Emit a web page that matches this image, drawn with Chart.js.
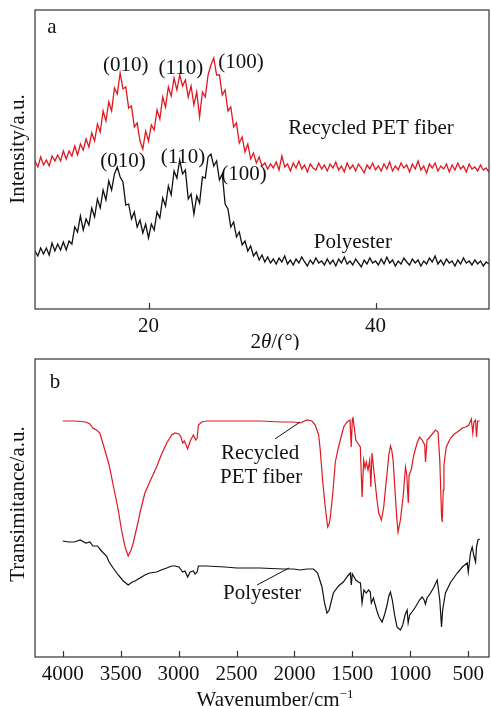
<!DOCTYPE html>
<html>
<head>
<meta charset="utf-8">
<script src="https://cdn.jsdelivr.net/npm/chart.js@4.4.0/dist/chart.umd.min.js"></script>
<style>
  html, body { margin: 0; padding: 0; background: #fff; }
  #wrap { position: relative; width: 491px; height: 706px; }
  canvas { position: absolute; left: 0; }
  #xrd { top: 0; }
  #ftir { top: 350px; }
</style>
</head>
<body>
<div id="wrap">
  <canvas id="xrd" width="491" height="350"></canvas>
  <canvas id="ftir" width="491" height="356"></canvas>
</div>
<script>
// panel a - XRD, 2theta in degrees
const angles = [
  10, 10.25, 10.5, 10.75, 11, 11.25, 11.5, 11.75, 12, 12.25, 12.5, 12.75, 13, 13.25, 13.5, 13.75, 14, 14.25, 14.5, 14.75,
  15, 15.25, 15.5, 15.75, 16, 16.25, 16.5, 16.75, 17, 17.25, 17.5, 17.75, 18, 18.25, 18.5, 18.75, 19, 19.25, 19.5, 19.75,
  20, 20.25, 20.5, 20.75, 21, 21.25, 21.5, 21.75, 22, 22.25, 22.5, 22.75, 23, 23.25, 23.5, 23.75, 24, 24.25, 24.5, 24.75,
  25, 25.25, 25.5, 25.75, 26, 26.25, 26.5, 26.75, 27, 27.25, 27.5, 27.75, 28, 28.25, 28.5, 28.75, 29, 29.25, 29.5, 29.75,
  30, 30.25, 30.5, 30.75, 31, 31.25, 31.5, 31.75, 32, 32.25, 32.5, 32.75, 33, 33.25, 33.5, 33.75, 34, 34.25, 34.5, 34.75,
  35, 35.25, 35.5, 35.75, 36, 36.25, 36.5, 36.75, 37, 37.25, 37.5, 37.75, 38, 38.25, 38.5, 38.75, 39, 39.25, 39.5, 39.75,
  40, 40.25, 40.5, 40.75, 41, 41.25, 41.5, 41.75, 42, 42.25, 42.5, 42.75, 43, 43.25, 43.5, 43.75, 44, 44.25, 44.5, 44.75,
  45, 45.25, 45.5, 45.75, 46, 46.25, 46.5, 46.75, 47, 47.25, 47.5, 47.75, 48, 48.25, 48.5, 48.75, 49, 49.25, 49.5, 49.75,
  50
];
const xrdRecycled = [
  148, 142, 152, 144, 149, 143, 153, 148, 154, 148, 158, 150, 158, 153, 163, 154, 165, 159, 170, 162,
  176, 168, 185, 177, 198, 188, 207, 198, 221, 215, 236, 220, 222, 201, 203, 182, 186, 168, 160, 178,
  168, 184, 179, 199, 190, 212, 202, 222, 213, 231, 219, 234, 223, 229, 212, 223, 204, 217, 192, 217,
  212, 234, 244, 251, 234, 234, 214, 219, 198, 202, 182, 186, 166, 172, 157, 165, 150, 156, 146, 152,
  143, 146, 140, 145, 141, 147, 139, 153, 142, 145, 138, 146, 141, 148, 140, 144, 137, 145, 141, 139,
  146, 140, 144, 138, 145, 141, 147, 139, 143, 137, 146, 140, 144, 138, 145, 141, 136, 144, 140, 146,
  139, 143, 138, 145, 140, 147, 138, 143, 139, 146, 141, 144, 137, 145, 140, 148, 139, 143, 136, 145,
  141, 146, 138, 143, 140, 145, 137, 144, 139, 146, 140, 143, 137, 145, 140, 142, 138, 144, 139, 141,
  137
];
const xrdPolyester = [
  58, 53, 61, 55, 61, 54, 66, 58, 65, 59, 67, 59, 68, 65, 82, 77, 93, 79, 90, 84,
  101, 92, 110, 101, 119, 109, 128, 119, 135, 142, 132, 127, 104, 105, 90, 97, 82, 89, 76, 85,
  71, 85, 79, 97, 91, 111, 103, 123, 114, 138, 131, 149, 135, 139, 110, 115, 95, 113, 106, 132,
  131, 152, 155, 143, 148, 129, 135, 105, 100, 82, 87, 72, 77, 64, 68, 58, 63, 53, 57, 49,
  54, 47, 52, 46, 50, 45, 51, 47, 53, 45, 49, 44, 50, 46, 52, 47, 43, 49, 45, 51,
  46, 48, 44, 50, 45, 49, 43, 50, 46, 52, 45, 48, 44, 50, 46, 42, 49, 45, 51, 46,
  48, 44, 50, 45, 52, 46, 49, 43, 48, 45, 51, 47, 44, 50, 46, 49, 43, 48, 45, 51,
  47, 53, 45, 49, 44, 50, 46, 48, 43, 49, 45, 51, 46, 48, 44, 49, 45, 48, 43, 47,
  45
];
const xrdTicks = [20, 40];

// panel b - FTIR, wavenumber in cm-1
const wnRecycled = [
  4000, 3900, 3800, 3766, 3740, 3710, 3680, 3637, 3600, 3565, 3521, 3493, 3460, 3435, 3410, 3392, 3350, 3334, 3291, 3250,
  3190, 3150, 3103, 3060, 3030, 2997, 2980, 2965, 2950, 2922, 2900, 2873, 2852, 2840, 2829, 2800, 2757, 2600, 2498, 2300,
  2100, 2008, 1950, 1892, 1849, 1820, 1791, 1777, 1757, 1734, 1713, 1700, 1690, 1670, 1647, 1625, 1604, 1575, 1546, 1520,
  1510, 1500, 1494, 1470, 1460, 1431, 1416, 1402, 1390, 1379, 1365, 1350, 1340, 1330, 1310, 1287, 1272, 1249, 1229, 1215,
  1200, 1185, 1171, 1160, 1148, 1128, 1115, 1105, 1085, 1060, 1050, 1041, 1030, 1017, 1010, 992, 969, 941, 920, 897,
  875, 868, 855, 839, 810, 782, 760, 745, 730, 724, 715, 709, 689, 652, 620, 594, 570, 551, 520, 494,
  473, 460, 450, 436, 428, 418, 401
];
const tRecycled = [
  236, 236, 235, 233, 229, 227, 224, 207, 192, 172, 147, 127, 109, 101, 107, 114, 135, 144, 164, 175,
  190, 202, 214, 222, 224, 223, 220, 214, 216, 208, 216, 222, 217, 219, 232, 235, 236, 236, 236, 236,
  235, 235, 234, 237, 236, 232, 222, 207, 177, 150, 130, 133, 140, 162, 195, 207, 217, 230, 235, 237,
  210, 238, 239, 217, 215, 210, 160, 197, 189, 195, 187, 197, 170, 204, 182, 157, 144, 137, 150, 167,
  184, 202, 211, 207, 197, 160, 137, 125, 137, 162, 177, 190, 182, 154, 182, 187, 202, 214, 220, 217,
  212, 195, 217, 219, 223, 227, 225, 197, 142, 135, 167, 192, 210, 219, 223, 225, 227, 229, 230, 232,
  238, 224, 235, 237, 220, 236, 236
];
const wnPolyester = [
  4000, 3950, 3900, 3850, 3800, 3766, 3740, 3700, 3680, 3650, 3622, 3600, 3565, 3521, 3478, 3435, 3400, 3377, 3334, 3291,
  3250, 3190, 3150, 3103, 3060, 3030, 2997, 2965, 2945, 2922, 2900, 2873, 2858, 2840, 2829, 2757, 2600, 2498, 2300, 2100,
  2008, 1950, 1892, 1835, 1800, 1762, 1740, 1719, 1700, 1664, 1620, 1578, 1540, 1517, 1509, 1500, 1470, 1448, 1430, 1416,
  1400, 1380, 1360, 1345, 1336, 1318, 1290, 1270, 1243, 1220, 1200, 1185, 1171, 1155, 1135, 1114, 1085, 1065, 1045, 1027,
  1018, 1005, 985, 955, 920, 897, 880, 869, 855, 830, 800, 767, 745, 730, 720, 696, 650, 594, 550, 508,
  499, 480, 465, 450, 436, 428, 415, 401
];
const tPolyester = [
  116, 115, 115, 117, 114, 115, 111, 111, 108, 104, 101, 95, 89, 82, 76, 72, 75, 76, 79, 82,
  84, 85, 87, 89, 91, 91, 90, 85, 86, 80, 85, 86, 83, 85, 91, 91, 90, 89, 89, 88,
  88, 87, 88, 88, 84, 70, 54, 44, 47, 64, 71, 75, 81, 84, 72, 83, 77, 75, 74, 54,
  67, 64, 67, 65, 54, 59, 47, 40, 35, 43, 52, 61, 65, 57, 42, 30, 27, 32, 42, 47,
  34, 42, 45, 50, 57, 60, 57, 53, 59, 63, 69, 77, 57, 30, 47, 64, 75, 84, 90, 94,
  85, 104, 110, 101, 95, 110, 117, 118
];
const ftirTicks = [4000, 3500, 3000, 2500, 2000, 1500, 1000, 500];

const RED = "rgb(224, 24, 32)";
const BLACK = "#111";
const FAMILY = "'Liberation Serif', 'Times New Roman', serif";

Chart.defaults.font.family = FAMILY;
Chart.defaults.font.size = 21;
Chart.defaults.color = "#111";

function partFont(p, size) {
  return (p.italic ? "italic " : "") + (p.sup ? Math.round(size * 0.62) : size) + "px " + FAMILY;
}

// frame, inward ticks, labels, leader lines and axis titles
const framePlugin = {
  id: "frame",
  afterDraw(chart, args, opts) {
    const { ctx, chartArea: a, scales } = chart;
    const xs = scales.x, ys = scales.y;
    ctx.save();
    ctx.strokeStyle = "#333";
    ctx.lineWidth = 1.2;
    ctx.strokeRect(a.left, a.top, a.right - a.left, a.bottom - a.top);
    xs.ticks.forEach(t => {
      const px = Math.round(xs.getPixelForValue(t.value)) + 0.5;
      ctx.beginPath();
      ctx.moveTo(px, a.bottom);
      ctx.lineTo(px, a.bottom - 6);
      ctx.stroke();
    });

    ctx.lineWidth = 1;
    ctx.strokeStyle = "#111";
    (opts.leaders || []).forEach(l => {
      ctx.beginPath();
      ctx.moveTo(xs.getPixelForValue(l.x1), ys.getPixelForValue(l.y1));
      ctx.lineTo(xs.getPixelForValue(l.x2), ys.getPixelForValue(l.y2));
      ctx.stroke();
    });

    ctx.fillStyle = "#111";
    ctx.font = "21px " + FAMILY;
    ctx.textBaseline = "middle";
    (opts.labels || []).forEach(l => {
      ctx.textAlign = l.align || "center";
      ctx.fillText(l.text, xs.getPixelForValue(l.x), ys.getPixelForValue(l.y));
    });

    // x title
    const xt = opts.xTitle;
    ctx.textAlign = "left";
    ctx.textBaseline = "alphabetic";
    let w = 0;
    xt.parts.forEach(p => { ctx.font = partFont(p, 21); w += ctx.measureText(p.t).width; });
    let x = xt.cx - w / 2;
    xt.parts.forEach(p => {
      ctx.font = partFont(p, 21);
      ctx.fillText(p.t, x, p.sup ? xt.y - 8 : xt.y);
      x += ctx.measureText(p.t).width;
    });

    // y title
    const yt = opts.yTitle;
    ctx.translate(yt.cx, yt.cy);
    ctx.rotate(-Math.PI / 2);
    ctx.font = "21px " + FAMILY;
    ctx.textAlign = "center";
    ctx.textBaseline = "middle";
    ctx.fillText(yt.text, 0, 0);
    ctx.restore();
  }
};

function line(xv, yv, color, width) {
  return {
    data: xv.map((x, i) => ({ x: x, y: yv[i] })),
    borderColor: color,
    borderWidth: width,
    showLine: true,
    pointRadius: 0,
    tension: 0
  };
}

function baseOptions(xScale, yMax, xHeight, padTop, frame) {
  return {
    responsive: false,
    animation: false,
    devicePixelRatio: 1,
    layout: { padding: { top: padTop, right: 2, left: 0, bottom: 0 } },
    plugins: {
      legend: { display: false },
      tooltip: { enabled: false },
      frame: frame
    },
    scales: {
      x: Object.assign({
        type: "linear",
        afterFit: s => { s.height = xHeight; },
        grid: { display: false },
        border: { display: false },
        ticks: { padding: -3, color: "#111", font: { size: 21 }, callback: v => String(v) }
      }, xScale),
      y: {
        min: 0,
        max: yMax,
        afterFit: s => { s.width = 35; },
        ticks: { display: false },
        grid: { display: false },
        border: { display: false }
      }
    }
  };
}

new Chart(document.getElementById("xrd"), {
  type: "scatter",
  data: {
    datasets: [
      line(angles, xrdRecycled, RED, 1.3),
      line(angles, xrdPolyester, BLACK, 1.3)
    ]
  },
  options: baseOptions(
    { min: 10, max: 50, afterBuildTicks: s => { s.ticks = xrdTicks.map(v => ({ value: v })); } },
    299, 41, 10,
    {
      labels: [
        { text: "a", x: 11.5, y: 282 },
        { text: "(010)", x: 18.0, y: 244 },
        { text: "(110)", x: 22.86, y: 241 },
        { text: "(100)", x: 28.15, y: 247 },
        { text: "Recycled PET fiber", x: 39.6, y: 181 },
        { text: "(010)", x: 17.75, y: 148 },
        { text: "(110)", x: 23.04, y: 152 },
        { text: "(100)", x: 28.41, y: 135 },
        { text: "Polyester", x: 38.0, y: 67 }
      ],
      xTitle: { parts: [{ t: "2" }, { t: "θ", italic: true }, { t: "/(°)" }], cx: 275, y: 348 },
      yTitle: { text: "Intensity/a.u.", cx: 18, cy: 149 }
    }
  ),
  plugins: [framePlugin]
});

new Chart(document.getElementById("ftir"), {
  type: "scatter",
  data: {
    datasets: [
      line(wnRecycled, tRecycled, RED, 1.2),
      line(wnPolyester, tPolyester, BLACK, 1.2)
    ]
  },
  options: baseOptions(
    { min: 320, max: 4240, reverse: true, afterBuildTicks: s => { s.ticks = ftirTicks.map(v => ({ value: v })); } },
    298, 49, 9,
    {
      labels: [
        { text: "b", x: 4067, y: 275 },
        { text: "Recycled", x: 2634, y: 204, align: "left" },
        { text: "PET fiber", x: 2643, y: 180, align: "left" },
        { text: "Polyester", x: 2617, y: 64, align: "left" }
      ],
      leaders: [
        { x1: 2168, y1: 218, x2: 1952, y2: 235 },
        { x1: 2323, y1: 72, x2: 2047, y2: 89 }
      ],
      xTitle: { parts: [{ t: "Wavenumber/cm" }, { t: "−1", sup: true }], cx: 275, y: 356 },
      yTitle: { text: "Transimitance/a.u.", cx: 18, cy: 154 }
    }
  ),
  plugins: [framePlugin]
});
</script>
</body>
</html>
